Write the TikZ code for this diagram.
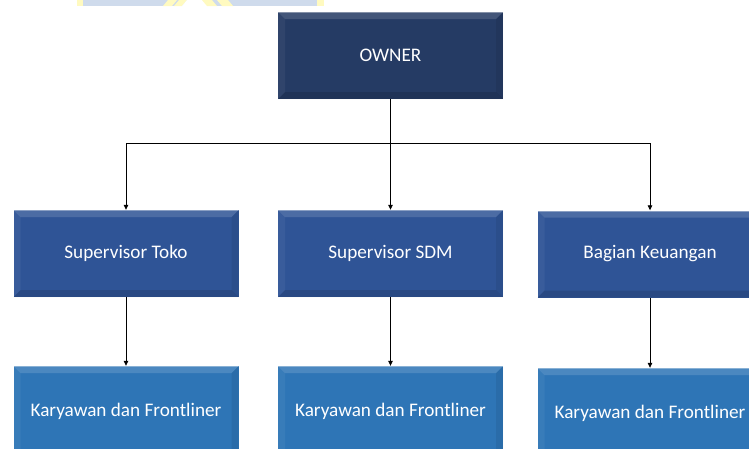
\documentclass[tikz,border=0pt]{standalone}
\usepackage{fontspec}
\setmainfont{Carlito}
\usetikzlibrary{arrows.meta}
\definecolor{ownerc}{RGB}{37,59,100}
\definecolor{supc}{RGB}{47,84,150}
\definecolor{karc}{RGB}{46,117,182}
\definecolor{wmblue}{RGB}{207,219,236}
\definecolor{wmyellow}{RGB}{255,250,192}
\newcommand{\bb}{path picture bounding box}
\tikzset{
  x=1pt, y=-1pt,
  orgbox/.style={minimum width=225pt, inner sep=0pt, text=white,
    font=\fontsize{19.2}{23}\selectfont,
    path picture={
      \fill[white,opacity=0.14] (\bb.north west) -- (\bb.north east) -- ([xshift=-7pt,yshift=-7pt]\bb.north east) -- ([xshift=7pt,yshift=-7pt]\bb.north west) -- cycle;
      \fill[white,opacity=0.05] (\bb.north west) -- ([xshift=7pt,yshift=-7pt]\bb.north west) -- ([xshift=7pt,yshift=7pt]\bb.south west) -- (\bb.south west) -- cycle;
      \fill[black,opacity=0.07] (\bb.north east) -- ([xshift=-7pt,yshift=-7pt]\bb.north east) -- ([xshift=-7pt,yshift=7pt]\bb.south east) -- (\bb.south east) -- cycle;
      \fill[black,opacity=0.12] (\bb.south west) -- ([xshift=7pt,yshift=7pt]\bb.south west) -- ([xshift=-7pt,yshift=7pt]\bb.south east) -- (\bb.south east) -- cycle;
      \draw[white,opacity=0.35,line width=1pt] ([yshift=-0.5pt]\bb.north west) -- ([yshift=-0.5pt]\bb.north east);
    }},
  ownerbox/.style={orgbox, fill=ownerc, minimum height=87pt},
  supbox/.style={orgbox, fill=supc, minimum height=87pt},
  karbox/.style={orgbox, fill=karc, minimum height=90pt},
  conn/.style={draw=black, line width=0.8pt},
  arr/.style={conn, -{Triangle[length=5pt,width=4.5pt]}},
}
\begin{document}
\begin{tikzpicture}
\useasboundingbox (0,0) rectangle (749,448);
\clip (0,0) rectangle (749,448);
% watermark band at the top
\fill[wmyellow] (77,0) rectangle (324,6);
\fill[wmblue] (83,0) rectangle (317,6);
\fill[wmyellow] (163,6) -- (168,0) -- (177,0) -- (172,6) -- cycle;
\fill[wmyellow] (174,6) -- (179,0) -- (187,0) -- (182,6) -- cycle;
\fill[white] (182,6) -- (187,0) -- (203,0) -- (208,6) -- cycle;
\fill[wmyellow] (207,6) -- (202,0) -- (212,0) -- (217,6) -- cycle;
\fill[wmyellow] (222,6) -- (217,0) -- (228,0) -- (233,6) -- cycle;
% boxes
\node[ownerbox] (owner) at (390.5,55.5) {OWNER};
\node[supbox] (sup1) at (126,253.5) {Supervisor Toko};
\node[supbox] (sup2) at (390.5,253.5) {Supervisor SDM};
\node[supbox] (sup3) at (650,254) {Bagian Keuangan};
\node[karbox] (kar1) at (126,411) {Karyawan dan Frontliner};
\node[karbox] (kar2) at (390.5,411) {Karyawan dan Frontliner};
\node[karbox] (kar3) at (650,413) {Karyawan dan Frontliner};
% connectors
\coordinate (hub) at (390.5,143);
\draw[conn] (owner.south) -- (hub);
\draw[arr] (hub) -| (sup1.north);
\draw[arr] (hub) -- (sup2.north);
\draw[arr] (hub) -| (sup3.north);
\draw[arr] (sup1.south) -- (kar1.north);
\draw[arr] (sup2.south) -- (kar2.north);
\draw[arr] (sup3.south) -- (kar3.north);
\end{tikzpicture}
\end{document}
